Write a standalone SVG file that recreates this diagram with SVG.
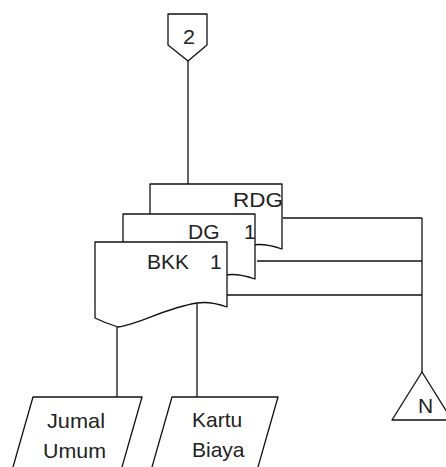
<svg xmlns="http://www.w3.org/2000/svg" width="446" height="467" viewBox="0 0 446 467">
<style>
.s{fill:#fff;stroke:#111;stroke-width:1.3;stroke-linejoin:round}
.c{fill:none;stroke:#111;stroke-width:1.3}
.t{font-family:"Liberation Sans",Arial,sans-serif;font-size:21px;fill:#222}
</style>
<defs>
<path id="doc" d="M95,318 L95,242 L227,242 L227,307 Q210,301 197,303 C165,308 140,324 118,327 Q105,323 95,318 Z"/>
</defs>
<rect width="446" height="467" fill="#fff"/>
<g id="connectors">
<line class="c" x1="188" y1="61" x2="188" y2="184"/>
<line class="c" x1="283" y1="218" x2="422" y2="218"/>
<line class="c" x1="257" y1="261" x2="422" y2="261"/>
<line class="c" x1="227" y1="295" x2="422" y2="295"/>
<line class="c" x1="422" y1="218" x2="422" y2="372"/>
<line class="c" x1="117" y1="326" x2="117" y2="397"/>
<line class="c" x1="197" y1="303" x2="197" y2="397"/>
</g>
<g id="offpage2">
<path class="s" d="M168,14 H207 V45 L188,61 L168,45 Z"/>
<text class="t" x="183" y="44" font-size="24" textLength="12" lengthAdjust="spacingAndGlyphs">2</text>
</g>
<g id="RDG">
<use href="#doc" class="s" transform="translate(55,-58)"/>
<text class="t" x="233" y="207" textLength="50" lengthAdjust="spacingAndGlyphs">RDG</text>
</g>
<g id="DG1">
<use href="#doc" class="s" transform="translate(28,-28)"/>
<text class="t" x="188" y="239">DG <tspan x="244">1</tspan></text>
</g>
<g id="BKK1">
<use href="#doc" class="s"/>
<text class="t" x="147" y="269">BKK <tspan x="210">1</tspan></text>
</g>
<g id="N">
<path class="s" d="M422,372 L392,420 L452,420 Z"/>
<text class="t" x="418" y="413" font-size="19">N</text>
</g>
<g id="JumalUmum">
<path class="s" d="M33,397 L142,397 L118.3,480 L9.3,480 Z"/>
<text class="t" x="47" y="428" textLength="58" lengthAdjust="spacingAndGlyphs">Jumal</text>
<text class="t" x="43" y="458" textLength="63" lengthAdjust="spacingAndGlyphs">Umum</text>
</g>
<g id="KartuBiaya">
<path class="s" d="M172,397 L278,397 L254.3,480 L148.3,480 Z"/>
<text class="t" x="192" y="427" font-size="20">Kartu</text>
<text class="t" x="192" y="457" font-size="20">Biaya</text>
</g>
</svg>
